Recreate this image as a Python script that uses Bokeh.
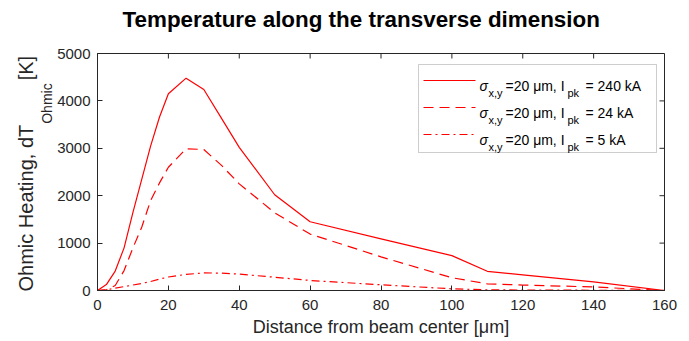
from bokeh.plotting import figure
from bokeh.models import Range1d, FixedTicker, LinearAxis, Label, BoxAnnotation, Title
from bokeh.embed import file_html
from bokeh.resources import INLINE

# Ohmic heating profiles vs. distance from the beam axis
distance_um = [0, 2.5, 5, 7.5, 10, 12.5, 15, 17.5, 20, 25, 30, 35, 40,
               50, 60, 80, 100, 110, 120, 140, 160]
heating_240kA = [0, 125, 410, 900, 1650, 2350, 3050, 3660, 4150, 4480, 4240,
                 3630, 3020, 2020, 1450, 1090, 735, 405, 330, 180, 0]
heating_24kA = [0, 15, 105, 420, 900, 1340, 1900, 2270, 2600, 2990, 2975,
                2640, 2250, 1640, 1190, 710, 270, 140, 115, 75, 0]
heating_5kA = [0, 15, 48, 82, 115, 150, 190, 240, 285, 340, 370,
               368, 345, 280, 212, 120, 35, 15, 10, 5, 0]

x_ticks = [0, 20, 40, 60, 80, 100, 120, 140, 160]
y_ticks = [0, 1000, 2000, 3000, 4000, 5000]
legend_currents = ["240 kA", "24 kA", "5 kA"]

TITLE = "Temperature along the transverse dimension"
X_LABEL = "Distance from beam center [\u03bcm]"
Y_MAIN = "Ohmic Heating, dT"
Y_SUB = "Ohmic"
Y_UNIT = "[K]"

W, H = 689, 341
L, R, T, B = 97, 664, 53, 290          # plot frame edges, px
X0, X1, Y0, Y1 = x_ticks[0], x_ticks[-1], y_ticks[0], y_ticks[-1]

FONT = "Liberation Sans"
AX_COLOR = "#262626"
RED = "#ff0000"
STYLES = ["solid", "10 6", "8 4 2 4"]
TICK_LEN = 5


def dx(px):
    return X0 + (px - L) * (X1 - X0) / (R - L)


def dy(py):
    return Y0 + (B - py) * (Y1 - Y0) / (B - T)


p = figure(width=W, height=H, output_backend="svg", toolbar_location=None,
           x_range=Range1d(X0, X1), y_range=Range1d(Y0, Y1),
           min_border_left=L, min_border_right=W - R,
           min_border_top=T, min_border_bottom=H - B,
           x_axis_type=None, y_axis_type=None)
p.grid.visible = False
p.outline_line_color = AX_COLOR
p.background_fill_color = "white"
p.border_fill_color = "white"

# invisible top axis: only reserves room between the frame and the title
gap_axis = LinearAxis(ticker=FixedTicker(ticks=x_ticks), axis_line_color=None,
                      major_tick_in=0, major_tick_out=22,
                      major_tick_line_color=None, minor_tick_line_color=None,
                      major_label_text_color=None, major_label_standoff=0,
                      major_label_text_font_size="1px")
p.add_layout(gap_axis, "above")

p.title.text = TITLE
p.title.align = "left"
p.title.offset = 25
p.title.standoff = 0
p.title.text_font = FONT
p.title.text_font_size = "22.4px"
p.title.text_font_style = "bold"
p.title.text_color = "black"


def make_axis(ticks):
    ax = LinearAxis(ticker=FixedTicker(ticks=ticks))
    ax.axis_line_color = AX_COLOR
    ax.major_tick_line_color = AX_COLOR
    ax.major_tick_in = TICK_LEN
    ax.major_tick_out = 0
    ax.minor_tick_line_color = None
    ax.major_label_text_font = FONT
    ax.major_label_text_color = AX_COLOR
    ax.major_label_text_font_size = "15px"
    return ax


xb = make_axis(x_ticks)
xb.major_label_standoff = 9
xb.axis_label = X_LABEL
xb.axis_label_text_font = FONT
xb.axis_label_text_font_size = "18px"
xb.axis_label_text_font_style = "normal"
xb.axis_label_text_color = AX_COLOR
xb.axis_label_standoff = 4
p.add_layout(xb, "below")

yl = make_axis(y_ticks)
yl.major_label_standoff = 7
p.add_layout(yl, "left")

# y-axis label: subscript column next to the tick labels, main text outside it
sub_px, main_px = 14, 20
nbsp_w = 0.278 * main_px
sub_w = 2.889 * sub_px
gap = "\u00a0" * round((sub_w + nbsp_w) / nbsp_w)
main_len = 8.336 * main_px

p.add_layout(Title(text=Y_SUB, align="left", offset=main_len,
                   standoff=0, text_font=FONT, text_font_size=f"{sub_px}px",
                   text_font_style="normal", text_color=AX_COLOR), "left")
p.add_layout(Title(text=Y_MAIN + gap + Y_UNIT, align="left", offset=-1,
                   standoff=0, text_font=FONT, text_font_size=f"{main_px}px",
                   text_font_style="normal", text_color=AX_COLOR), "left")

# inward ticks on the top and right edges of the box
ty = TICK_LEN * (Y1 - Y0) / (B - T)
tx = TICK_LEN * (X1 - X0) / (R - L)
p.segment(x0=x_ticks, y0=[Y1] * len(x_ticks), x1=x_ticks,
          y1=[Y1 - ty] * len(x_ticks), line_color=AX_COLOR, line_width=1)
p.segment(x0=[X1] * len(y_ticks), y0=y_ticks, x1=[X1 - tx] * len(y_ticks),
          y1=y_ticks, line_color=AX_COLOR, line_width=1)

series = [heating_240kA, heating_24kA, heating_5kA]
for ys, dash in zip(series, STYLES):
    p.line(distance_um, ys, line_color=RED, line_width=1.2, line_dash=dash)

# legend box
p.add_layout(BoxAnnotation(left=dx(418), right=dx(656), top=dy(64),
                           bottom=dy(152), fill_color="white", fill_alpha=1,
                           line_color="#5a5a5a", line_width=1,
                           level="underlay"))
row_y = [80, 107, 134]
for ry, dash, cur in zip(row_y, STYLES, legend_currents):
    p.line([dx(423), dx(475)], [dy(ry), dy(ry)], line_color=RED,
           line_width=1.2, line_dash=dash)
    pieces = [("\u03c3", 479, ry + 5, "14px", "italic"),
              ("x,y", 488, ry + 12, "11px", "normal"),
              ("=20 \u03bcm, I", 505, ry + 5, "14px", "normal"),
              ("pk", 567, ry + 12, "11px", "normal"),
              ("= " + cur, 585, ry + 5, "14px", "normal")]
    for txt, px, py, fs, st in pieces:
        p.add_layout(Label(x=dx(px), y=dy(py), text=txt, text_align="left",
                           text_baseline="alphabetic", text_font=FONT,
                           text_font_size=fs, text_font_style=st,
                           text_color="black"))

open("out.html", "w").write(file_html(p, INLINE))
